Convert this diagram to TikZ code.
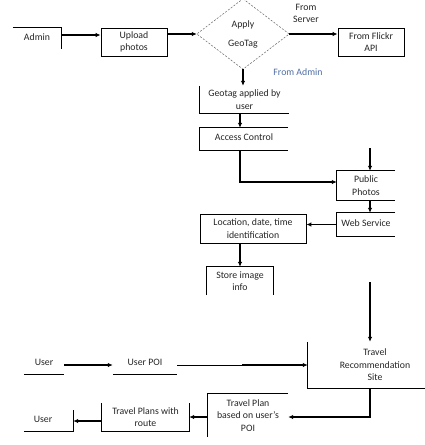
\documentclass[tikz,border=0pt]{standalone}
\usepackage{fontspec}
\setmainfont{Carlito}
\usetikzlibrary{arrows.meta,calc}
\definecolor{admintxt}{RGB}{80,110,165}
\begin{document}
\begin{tikzpicture}[x=1pt,y=-1pt,
  every node/.style={font=\fontsize{9.8}{12.5}\selectfont, text=black!85, align=center, inner sep=0pt},
  box/.style={draw, line width=0.8pt},
  ln/.style={line width=0.8pt},
  arr/.style={line width=1.2pt, -{Latex[length=5pt,width=4.5pt]}},
  dashdiamond/.style={line width=0.5pt, black!60, dash pattern=on 2pt off 1.5pt},
]
\useasboundingbox[fill=white] (0,0) rectangle (425,445);

% nodes
\node[minimum width=48pt, minimum height=21pt] (admin) at (37,38.5) {\raisebox{3.5pt}{Admin}};
\draw[ln] (admin.north west) -- (admin.north east) -- (admin.south east);

\node[box, minimum width=66pt, minimum height=28pt] (upload) at (134,42) {Upload\\photos};

\node[minimum width=92pt, minimum height=70pt] (apply) at (243,34) {Apply\\[6.5pt]GeoTag};
\draw[dashdiamond] (apply.north) -- (apply.east) -- (apply.south) -- (apply.west) -- cycle;

\node (server) at (306,13.5) {From\\Server};
\node[box, minimum width=66pt, minimum height=28pt] (flickr) at (371,42) {From Flickr\\API};
\node[text=admintxt] (fromadmin) at (298,72) {From Admin};

\node[minimum width=89pt, minimum height=27pt] (geo) at (244.5,99.5) {Geotag applied by\\user};
\draw[ln] (geo.north west) -- (geo.south west) -- (geo.south east);

\node[minimum width=88pt, minimum height=22pt] (access) at (244,139) {\raisebox{3pt}{Access Control}};
\draw[ln] (access.north east) -- (access.north west) -- (access.south west) -- (access.south east);

\node[minimum width=58pt, minimum height=29pt] (public) at (366,185.5) {Public\\Photos};
\draw[ln] (public.north east) -- (public.north west) -- (public.south west) -- (public.south east);

\node[minimum width=58pt, minimum height=23pt] (web) at (366,224.5) {\raisebox{2pt}{Web Service}};
\draw[ln] (web.north east) -- (web.north west) -- (web.south west) -- (web.south east);

\node[box, minimum width=106pt, minimum height=29pt] (loc) at (253,228.5) {Location, date, time\\identification};

\node[minimum width=66pt, minimum height=28pt] (store) at (240,281) {Store image\\info};
\draw[ln] (store.south west) -- (store.north west) -- (store.north east) -- (store.south east);

\node[minimum width=134pt, minimum height=46pt] (rec) at (375,365) {Travel\\Recommendation\\Site};
\draw[ln] (rec.north west) -- (rec.south west) -- (rec.south east);

\node[minimum width=40pt, minimum height=20pt] (user1) at (44,364) {\raisebox{3pt}{User}};
\draw[ln] (user1.south west) -- (user1.south east);

\node[minimum width=64pt, minimum height=20pt] (poi) at (145,364) {\raisebox{3pt}{User POI}};
\draw[ln] (poi.south west) -- (poi.south east);

\node[minimum width=80pt, minimum height=43pt] (plan) at (248,415.5) {Travel Plan\\based on user's\\POI};
\draw[ln] (plan.north east) -- (plan.north west) -- (plan.south west);

\node[minimum width=87pt, minimum height=28pt] (route) at (145.5,417) {Travel Plans with\\route};
\draw[ln] (route.north west) -- (route.south west) -- (route.south east) -- (route.north east);

\node[minimum width=49pt, minimum height=21pt] (user2) at (48.5,420.5) {\hspace*{-11pt}\raisebox{1.5pt}{User}};
\draw[ln] (user2.south west) -- (user2.south east) -- (user2.north east);

% helper coordinates
\coordinate (col) at (240,0);
\coordinate (pin) at (370,148);
\coordinate (rin) at (370,282);
\coordinate (mid) at (242,365);

% connectors
\draw[arr] ([yshift=3.5pt]admin.east) -- ([yshift=3.5pt]admin.east -| upload.west);
\draw[arr] (upload.east |- apply.west) -- (apply.west);
\draw[arr] (apply.east) -- (apply.east -| flickr.west);
\draw[arr] (apply.south) -- (apply.south |- geo.north);
\draw[arr] (col |- geo.south) -- (col |- access.north);
\draw[arr] (col |- access.south) |- ([yshift=3.5pt]public.west);
\draw[arr] (pin) -- (pin |- public.north);
\draw[arr] (pin |- public.south) -- (pin |- web.north);
\draw[arr] (web.west) -- (web.west -| loc.east);
\draw[arr] (col |- loc.south) -- (col |- store.north);
\draw[arr] (rin) -- (rin |- rec.north);
\draw[arr, line width=1.8pt] (rec.west -| user1.east) -- (rec.west -| poi.west);
\draw[ln] (rec.west -| poi.east) -- (rec.west -| mid);
\draw[arr, line width=1.6pt] (rec.west -| mid) -- (rec.west);
\draw[arr] (rin |- rec.south) |- ([yshift=-1.5pt]plan.east);
\draw[arr] ([yshift=-1.5pt]plan.west) -- ([yshift=-1.5pt]plan.west -| route.east);
\draw[arr] ([yshift=-4pt]route.west) -- ([yshift=-4pt]route.west -| user2.east);
\end{tikzpicture}
\end{document}
